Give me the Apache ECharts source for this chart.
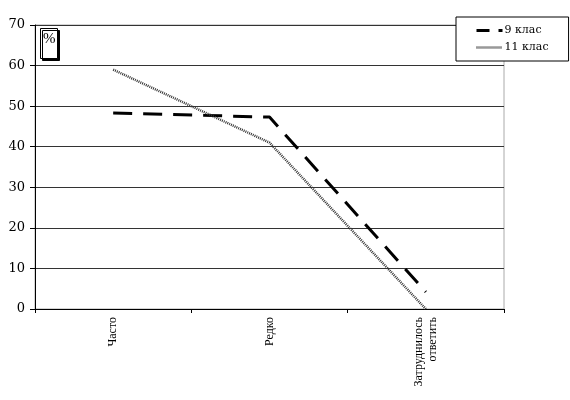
<!DOCTYPE html>
<html>
<head>
<meta charset="utf-8">
<script src="https://cdn.jsdelivr.net/npm/echarts@6/dist/echarts.min.js"></script>
<style>
  html, body { margin: 0; padding: 0; background: #fff; }
  #chart { width: 570px; height: 400px; }
</style>
</head>
<body>
<div id="chart"></div>
<script>
// categories and values
const categories = ['Часто', 'Редко', 'Затруднилось\nответить']
const grade9 = [48.3, 47.3, 4.2]
const grade11 = [59, 41, 0]
const seriesNames = ['9 клас', '11 клас']

const serif = '"Liberation Serif", "DejaVu Serif", serif'
const wideSerif = '"DejaVu Serif", serif'
const chart = echarts.init(document.getElementById('chart'))
const option = {
  animation: false,
  title: {
    text: '%',
    left: 40,
    top: 28,
    padding: [4, 2, 12, 3],
    backgroundColor: '#fff',
    borderColor: '#000',
    borderWidth: 1,
    shadowColor: '#000',
    shadowOffsetX: 2,
    shadowOffsetY: 2,
    shadowBlur: 0,
    textStyle: {
      fontFamily: serif,
      fontSize: 15,
      fontWeight: 'normal',
      color: '#000'
    }
  },
  legend: {
    orient: 'vertical',
    left: 456,
    top: 17,
    padding: [8, 20, 8, 19],
    itemGap: 6,
    itemWidth: 26,
    itemHeight: 10,
    backgroundColor: '#fff',
    borderColor: '#000',
    borderWidth: 1,
    data: [
      { name: seriesNames[0], lineStyle: { color: '#000', type: [13, 9], width: 3 } },
      { name: seriesNames[1], lineStyle: { color: '#333', type: [1, 1], width: 2.5 } }
    ],
    itemStyle: { opacity: 0 },
    textStyle: {
      fontFamily: wideSerif,
      fontSize: 11,
      color: '#000',
      padding: [0, 0, 0, -3]
    }
  },
  grid: {
    left: 35,
    right: 66,
    top: 25,
    bottom: 91,
    show: true,
    borderColor: '#aaa',
    borderWidth: 1
  },
  xAxis: {
    type: 'category',
    data: categories,
    boundaryGap: true,
    axisLine: { lineStyle: { color: '#000', width: 1 } },
    axisTick: { show: true, length: 4, lineStyle: { color: '#000' } },
    axisLabel: {
      rotate: 90,
      margin: 8,
      interval: 0,
      fontFamily: serif,
      fontSize: 12,
      color: '#000',
      lineHeight: 14
    }
  },
  yAxis: {
    type: 'value',
    min: 0,
    max: 70,
    interval: 10,
    axisLine: { show: true, lineStyle: { color: '#000', width: 1 } },
    axisTick: { show: true, length: 5, lineStyle: { color: '#000' } },
    axisLabel: {
      margin: 10,
      fontFamily: wideSerif,
      fontSize: 13,
      color: '#000'
    },
    splitLine: { show: true, lineStyle: { color: '#333', width: 1 } }
  },
  series: [
    {
      name: seriesNames[0],
      type: 'line',
      data: grade9,
      symbol: 'none',
      lineStyle: { color: '#000', width: 3, type: [19, 11] },
      itemStyle: { color: '#000' }
    },
    {
      name: seriesNames[1],
      type: 'line',
      data: grade11,
      symbol: 'none',
      lineStyle: { color: '#333', width: 2.5, type: [1, 1] },
      itemStyle: { color: '#555' }
    }
  ]
}
chart.setOption(option)
</script>
</body>
</html>
